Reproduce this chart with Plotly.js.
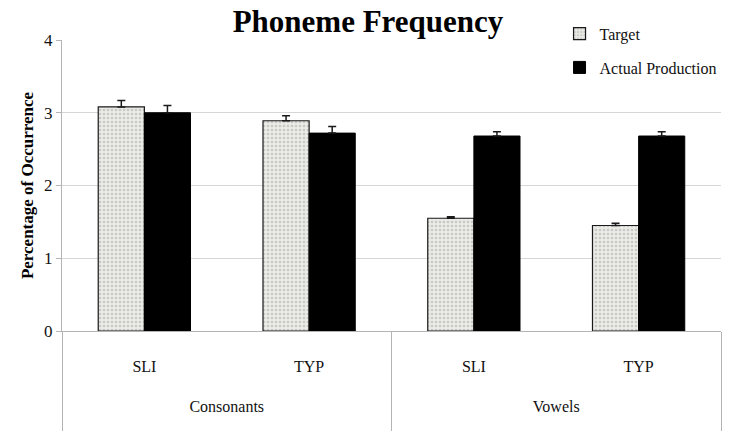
<!DOCTYPE html>
<html>
<head>
<meta charset="utf-8">
<script src="https://cdn.plot.ly/plotly-3.0.1.min.js"></script>
<style>
  html, body { margin: 0; padding: 0; background: #fff; }
  #chart { width: 751px; height: 431px; }
</style>
</head>
<body>
<div id="chart"></div>
<script>
var groups = ['Consonants', 'Consonants', 'Vowels', 'Vowels'];
var subjects = ['SLI', 'TYP', 'SLI', 'TYP'];

var targetVals = [3.08, 2.89, 1.55, 1.45];
var targetErr = [0.09, 0.07, 0.02, 0.03];
var actualVals = [3.00, 2.72, 2.68, 2.68];
var actualErr = [0.10, 0.09, 0.06, 0.06];
var noErr = [0, 0, 0, 0];

var serif = 'Liberation Serif, Times New Roman, serif';

// pad the labels with blank lines so the divider lines run long, like the original
var groupLabels = groups.map(function (g) { return '<br>' + g + '<br> '; });
var subjectLabels = subjects.map(function (s) { return '<br>' + s + '<br> '; });

var target = {
  x: [groupLabels, subjectLabels],
  y: targetVals,
  name: 'Target',
  legendgroup: 't',
  type: 'bar',
  marker: {
    color: '#ebebe8',
    line: {color: '#1a1a1a', width: 1.2},
    pattern: {shape: '.', fgcolor: '#c8c8c4', bgcolor: '#ebebe8', size: 4, solidity: 0.35}
  },
  error_y: {type: 'data', symmetric: false, array: targetErr, arrayminus: noErr, visible: true, color: '#1a1a1a', thickness: 1.5, width: 4}
};

var actual = {
  x: [groupLabels, subjectLabels],
  y: actualVals,
  name: 'Actual Production',
  legendgroup: 'a',
  type: 'bar',
  marker: {color: '#000000', line: {color: '#000', width: 1}},
  error_y: {type: 'data', symmetric: false, array: actualErr, arrayminus: noErr, visible: true, color: '#1a1a1a', thickness: 1.5, width: 4}
};

var layout = {
  width: 751,
  height: 431,
  margin: {l: 62, r: 30, t: 40, b: 100},
  paper_bgcolor: '#fff',
  plot_bgcolor: '#fff',
  font: {family: serif, color: '#111', size: 16},
  title: {
    text: '<b>Phoneme Frequency</b>',
    font: {family: serif, size: 31, color: '#000'},
    x: 0.49, xanchor: 'center', y: 0.975, yanchor: 'top'
  },
  barmode: 'group',
  bargap: 0.44,
  bargroupgap: 0,
  showlegend: true,
  legend: {
    x: 0.755, y: 1.08, xanchor: 'left', yanchor: 'top',
    bgcolor: 'rgba(255,255,255,1)',
    font: {family: serif, size: 16, color: '#111'},
    traceorder: 'grouped',
    tracegroupgap: 10,
    itemwidth: 30
  },
  xaxis: {
    type: 'multicategory',
    showline: true,
    linecolor: '#b4b4b4',
    linewidth: 1,
    showdividers: true,
    dividercolor: '#b4b4b4',
    dividerwidth: 1,
    tickfont: {family: serif, size: 16, color: '#111'},
    ticks: '',
    showgrid: false
  },
  yaxis: {
    range: [0, 4],
    dtick: 1,
    showgrid: true,
    gridcolor: '#d6d6d6',
    gridwidth: 1,
    showline: true,
    linecolor: '#b4b4b4',
    ticks: 'outside',
    ticklen: 5,
    tickcolor: '#b4b4b4',
    zeroline: false,
    tickfont: {family: serif, size: 17, color: '#111'},
    title: {text: '<b>Percentage of Occurrence</b>', font: {family: serif, size: 17, color: '#000'}, standoff: 6}
  }
};

Plotly.newPlot('chart', [target, actual], layout, {displayModeBar: false, responsive: false});
</script>
</body>
</html>
